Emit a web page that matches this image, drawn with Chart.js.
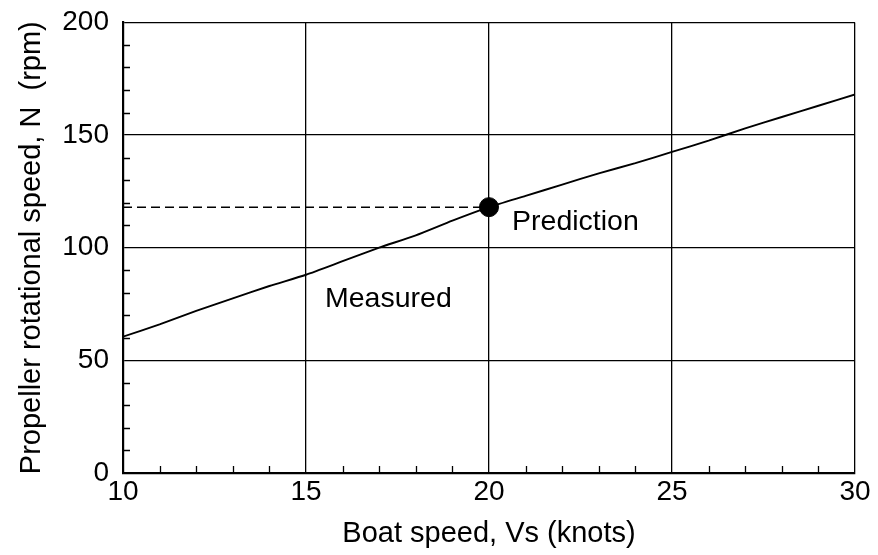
<!DOCTYPE html>
<html>
<head>
<meta charset="utf-8">
<title>Propeller rotational speed</title>
<script src="https://cdn.jsdelivr.net/npm/chart.js@4.4.0/dist/chart.umd.min.js"></script>
<style>
  html, body { margin: 0; padding: 0; background: #fff; }
  #wrap { width: 878px; height: 555px; position: relative; }
</style>
</head>
<body>
<div id="wrap"><canvas id="rpmChart"></canvas></div>
<script>
// measured curve, boat speed (knots) vs propeller rpm
var boatSpeed   = [10, 11, 12, 13, 14, 15, 16, 17, 18, 19, 20, 21, 22, 23, 24, 25, 26, 27, 28, 29, 30];
var measuredRpm = [60.5, 66, 72, 77.5, 83, 88, 94, 100, 105.5, 112, 118, 123, 128, 133, 137.5, 142.5, 147.5, 153, 158, 163, 168];

// predicted operating point
var predictionSpeed = [20];
var predictionRpm   = [118];

// axes
var xRange = [10, 30];
var yRange = [0, 200];
var xMajorStep = 5, xMinorStep = 1;
var yMajorStep = 50, yMinorStep = 10;

// text labels, anchored at their baseline in data units
var measuredLabel   = { text: 'Measured',   x: 15.52, y: 73.5 };
var predictionLabel = { text: 'Prediction', x: 20.63, y: 108 };

var FONT = '"Liberation Sans", Arial, Helvetica, sans-serif';

var measuredPts = boatSpeed.map(function(v, i) { return { x: v, y: measuredRpm[i] }; });
var predictionPts = predictionSpeed.map(function(v, i) { return { x: v, y: predictionRpm[i] }; });
// dashed guide from the y axis to the prediction point
var guidePts = [{ x: xRange[0], y: predictionRpm[0] }, { x: predictionSpeed[0], y: predictionRpm[0] }];

var isMajor = function(v, step) { return Math.abs(v / step - Math.round(v / step)) < 1e-6; };

var decorations = {
  id: 'decorations',
  afterDatasetsDraw: function(chart) {
    var ctx = chart.ctx, xs = chart.scales.x, ys = chart.scales.y;
    var area = chart.chartArea;
    ctx.save();
    // inward minor ticks
    ctx.strokeStyle = '#000';
    ctx.lineWidth = 1.3;
    ctx.beginPath();
    for (var v = yRange[0]; v <= yRange[1]; v += yMinorStep) {
      if (isMajor(v, yMajorStep)) continue;
      var py = Math.round(ys.getPixelForValue(v)) + 0.5;
      ctx.moveTo(area.left, py);
      ctx.lineTo(area.left + 7, py);
    }
    for (var u = xRange[0]; u <= xRange[1]; u += xMinorStep) {
      if (isMajor(u, xMajorStep)) continue;
      var px = Math.round(xs.getPixelForValue(u)) + 0.5;
      ctx.moveTo(px, area.bottom);
      ctx.lineTo(px, area.bottom - 7);
    }
    ctx.stroke();

    // curve labels
    ctx.fillStyle = '#000';
    ctx.font = '28.5px ' + FONT;
    ctx.textAlign = 'left';
    ctx.textBaseline = 'alphabetic';
    [measuredLabel, predictionLabel].forEach(function(l) {
      ctx.fillText(l.text, xs.getPixelForValue(l.x), ys.getPixelForValue(l.y));
    });
    ctx.restore();
  }
};

new Chart(document.getElementById('rpmChart'), {
  type: 'scatter',
  data: {
    datasets: [
      {
        label: 'Measured',
        data: measuredPts,
        showLine: true,
        borderColor: '#000',
        borderWidth: 1.9,
        pointRadius: 0,
        tension: 0.2,
        order: 2
      },
      {
        label: 'guide',
        data: guidePts,
        showLine: true,
        borderColor: '#000',
        borderWidth: 1.5,
        borderDash: [9, 5],
        pointRadius: 0,
        order: 3
      },
      {
        label: 'Prediction',
        data: predictionPts,
        pointRadius: 9.5,
        pointBackgroundColor: '#000',
        pointBorderColor: '#000',
        order: 1
      }
    ]
  },
  options: {
    responsive: true,
    maintainAspectRatio: false,
    animation: false,
    layout: { padding: { top: 21, right: 23, left: 0, bottom: 0 } },
    plugins: {
      legend: { display: false },
      tooltip: { enabled: false }
    },
    scales: {
      x: {
        type: 'linear',
        min: xRange[0],
        max: xRange[1],
        afterFit: function(s) { s.height = 82; },
        ticks: {
          stepSize: xMinorStep,
          autoSkip: false,
          maxRotation: 0,
          padding: 2,
          color: '#000',
          font: { family: FONT, size: 28 },
          callback: function(v) { return isMajor(v, xMajorStep) ? v : ''; }
        },
        grid: {
          drawTicks: false,
          lineWidth: 1.3,
          color: function(c) { return c.tick && isMajor(c.tick.value, xMajorStep) ? '#000' : 'rgba(0,0,0,0)'; }
        },
        border: { display: true, color: '#000', width: 2.2 },
        title: {
          display: true,
          text: 'Boat speed, Vs (knots)',
          color: '#000',
          font: { family: FONT, size: 29 },
          padding: { top: 0, bottom: 4 }
        }
      },
      y: {
        type: 'linear',
        min: yRange[0],
        max: yRange[1],
        afterFit: function(s) { s.width = 123; },
        ticks: {
          stepSize: yMinorStep,
          autoSkip: false,
          padding: 14,
          color: '#000',
          font: { family: FONT, size: 28, lineHeight: 0.6 },
          callback: function(v) { return isMajor(v, yMajorStep) ? v : ''; }
        },
        grid: {
          drawTicks: false,
          lineWidth: 1.3,
          color: function(c) { return c.tick && isMajor(c.tick.value, yMajorStep) ? '#000' : 'rgba(0,0,0,0)'; }
        },
        border: { display: true, color: '#000', width: 2.2 },
        title: {
          display: true,
          text: 'Propeller rotational speed, N  (rpm)',
          color: '#000',
          font: { family: FONT, size: 29 },
          padding: { top: 15, bottom: 0 }
        }
      }
    }
  },
  plugins: [decorations]
});
</script>
</body>
</html>
